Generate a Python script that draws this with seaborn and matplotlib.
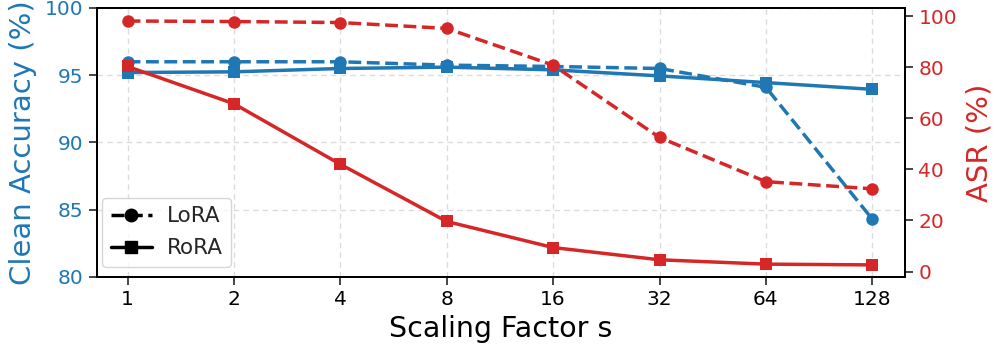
import matplotlib
matplotlib.use("Agg")
import matplotlib.pyplot as plt
import seaborn as sns
import pandas as pd
from matplotlib.lines import Line2D

sns.set_style("ticks")
plt.rcParams['font.family'] = ['DejaVu Sans']

scales = ["1", "2", "4", "8", "16", "32", "64", "128"]
lora_acc = [96.0, 96.0, 96.0, 95.75, 95.65, 95.5, 94.1, 84.3]
rora_acc = [95.2, 95.25, 95.5, 95.6, 95.4, 94.95, 94.45, 93.95]
lora_asr = [98.1, 97.9, 97.5, 95.2, 80.8, 52.5, 35.2, 32.4]
rora_asr = [80.3, 65.7, 42.0, 19.6, 9.4, 4.6, 2.9, 2.6]

blue = "#1f77b4"
red = "#d62728"

idx = list(range(len(scales)))
df = pd.DataFrame({"x": idx, "lora_acc": lora_acc, "rora_acc": rora_acc,
                   "lora_asr": lora_asr, "rora_asr": rora_asr})

fig, ax = plt.subplots(figsize=(9.97, 3.47), dpi=100)
fig.subplots_adjust(left=0.097, right=0.908, top=0.977, bottom=0.202)
ax2 = ax.twinx()

lw = 2.5
ms = 9
sns.lineplot(data=df, x="x", y="lora_acc", ax=ax, color=blue, linestyle="--",
             marker="o", markersize=ms, markeredgewidth=0, linewidth=lw)
sns.lineplot(data=df, x="x", y="rora_acc", ax=ax, color=blue, linestyle="-",
             marker="s", markersize=ms, markeredgewidth=0, linewidth=lw)
sns.lineplot(data=df, x="x", y="lora_asr", ax=ax2, color=red, linestyle="--",
             marker="o", markersize=ms, markeredgewidth=0, linewidth=lw)
sns.lineplot(data=df, x="x", y="rora_asr", ax=ax2, color=red, linestyle="-",
             marker="s", markersize=ms, markeredgewidth=0, linewidth=lw)

ax.set_xlim(-0.29, 7.31)
ax.set_xticks(idx)
ax.set_xticklabels(scales)
ax.set_ylim(80, 100)
ax.set_yticks([80, 85, 90, 95, 100])
ax2.set_ylim(-2.1, 103.2)
ax2.set_yticks([0, 20, 40, 60, 80, 100])

ax.set_xlabel("Scaling Factor s", fontsize=20.5, color="black", labelpad=4)
ax.set_ylabel("Clean Accuracy (%)", fontsize=21, color=blue, labelpad=6)
ax2.set_ylabel("ASR (%)", fontsize=21, color=red, labelpad=6)
ax.tick_params(axis="y", labelsize=14.5, labelcolor=blue, length=6, width=1.2)
ax.tick_params(axis="x", labelsize=14.5, labelcolor="black", length=6, width=1.2)
ax2.tick_params(axis="y", labelsize=14.5, labelcolor=red, length=6, width=1.2)

ax.grid(True, linestyle=(0, (4, 3)), color="#dcdcdc", linewidth=1)
for a in (ax, ax2):
    for s in a.spines.values():
        s.set_visible(True)
        s.set_color("black")
        s.set_linewidth(1.4)

handles = [Line2D([0], [0], color="black", linestyle="--", marker="o", markersize=ms, linewidth=lw),
           Line2D([0], [0], color="black", linestyle="-", marker="s", markersize=ms, linewidth=lw)]
ax.legend(handles, ["LoRA", "RoRA"], loc="lower left", fontsize=15.5, frameon=True,
          bbox_to_anchor=(0.0, 0.018), borderaxespad=0.25, handlelength=1.9,
          handletextpad=0.7, borderpad=0.4, labelspacing=0.55)

fig.savefig("out.png", dpi=100)
